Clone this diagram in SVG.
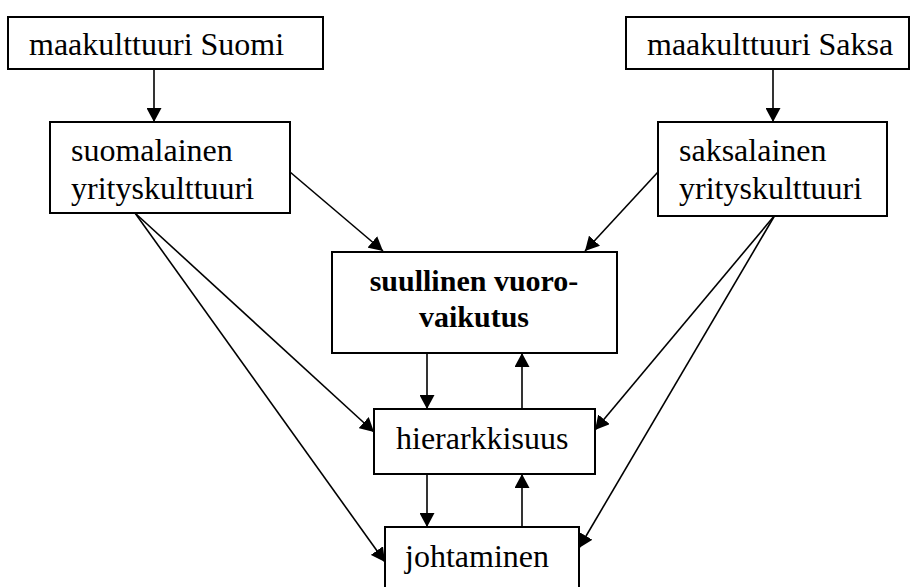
<svg xmlns="http://www.w3.org/2000/svg" width="911" height="587" viewBox="0 0 911 587">
<style>
.box{fill:#fff;stroke:#000;stroke-width:2}
.t{font-size:32px;fill:#000}
.b{font-size:30px;font-weight:bold;fill:#000}
.c{stroke:#000;stroke-width:1.6;fill:none;marker-end:url(#ah)}
</style>
<defs>
<marker id="ah" markerUnits="userSpaceOnUse" markerWidth="15" markerHeight="15" refX="14" refY="7.5" orient="auto" viewBox="0 0 15 15">
<path d="M0,0 L14,7.5 L0,15 z" fill="#000"/>
</marker>
</defs>
<rect width="911" height="587" fill="#fff"/>
<g id="connectors">
<line class="c" x1="154" y1="69" x2="154" y2="122"/>
<line class="c" x1="773" y1="69" x2="773" y2="122"/>
<line class="c" x1="290" y1="172" x2="383" y2="251"/>
<line class="c" x1="658" y1="172" x2="585" y2="251"/>
<line class="c" x1="135" y1="213" x2="374" y2="432"/>
<line class="c" x1="135" y1="213" x2="385" y2="562"/>
<line class="c" x1="775" y1="215" x2="595" y2="430"/>
<line class="c" x1="775" y1="215" x2="579" y2="548"/>
<line class="c" x1="427" y1="353" x2="427" y2="409"/>
<line class="c" x1="522" y1="409" x2="522" y2="353"/>
<line class="c" x1="427" y1="474" x2="427" y2="527"/>
<line class="c" x1="522" y1="527" x2="522" y2="474"/>
</g>
<g font-family="'Liberation Serif', 'DejaVu Serif', serif">
<g id="maakulttuuri-suomi">
<rect class="box" x="8" y="17" width="315" height="52"/>
<text class="t" x="29" y="55">maakulttuuri Suomi</text>
</g>
<g id="maakulttuuri-saksa">
<rect class="box" x="626" y="17" width="283" height="52"/>
<text class="t" x="647" y="55">maakulttuuri Saksa</text>
</g>
<g id="suomalainen-yrityskulttuuri">
<rect class="box" x="50" y="122" width="240" height="91"/>
<text class="t" x="71" y="161">suomalainen</text>
<text class="t" x="71" y="199">yrityskulttuuri</text>
</g>
<g id="saksalainen-yrityskulttuuri">
<rect class="box" x="658" y="122" width="229" height="94"/>
<text class="t" x="679" y="161">saksalainen</text>
<text class="t" x="679" y="199">yrityskulttuuri</text>
</g>
<g id="suullinen-vuorovaikutus">
<rect class="box" x="332" y="252" width="285" height="101"/>
<text class="b" x="474" y="291" text-anchor="middle">suullinen vuoro-</text>
<text class="b" x="474" y="327" text-anchor="middle">vaikutus</text>
</g>
<g id="hierarkkisuus">
<rect class="box" x="374" y="409" width="221" height="65"/>
<text class="t" x="396" y="449">hierarkkisuus</text>
</g>
<g id="johtaminen">
<rect class="box" x="385" y="527" width="194" height="80"/>
<text class="t" x="405" y="567">johtaminen</text>
</g>
</g>
</svg>
